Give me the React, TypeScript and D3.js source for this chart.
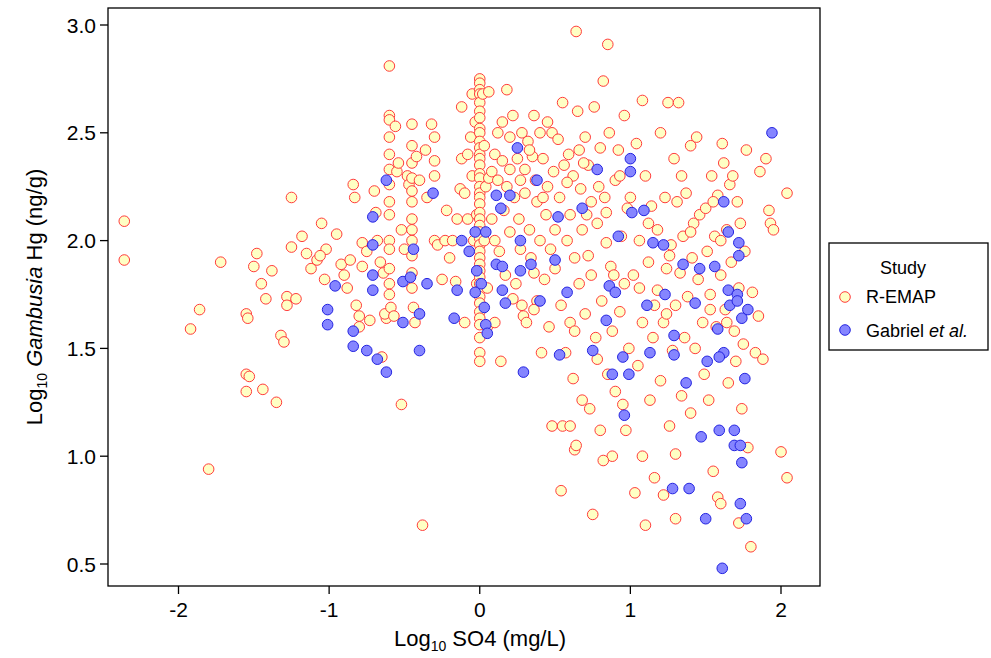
import React from 'react'
import * as d3 from 'd3'

// [log10 SO4, log10 Hg]
const remap: [number, number][] = [
  [-2.36,2.09],[-2.36,1.91],[-1.92,1.59],[-1.86,1.68],[-1.8,0.94],[-1.72,1.9],[-1.55,1.66],[-1.54,1.64],[-1.55,1.38],[-1.53,1.37],[-1.55,1.3],[-1.48,1.94],[-1.5,1.88],[-1.44,1.31],[-1.45,1.8],[-1.42,1.73],[-1.38,1.86],[-1.35,1.25],[-1.32,1.56],[-1.3,1.53],[-1.28,1.74],[-1.28,1.7],[-1.25,2.2],[-1.25,1.97],[-1.22,1.73],[-1.18,2.02],[-1.15,1.94],[-1.12,1.87],[-1.08,1.91],[-1.05,2.08],[-1.02,1.96],[-1.03,1.82],[-1.06,1.93],
  [-0.95,2.03],[-0.92,1.89],[-0.9,1.84],[-0.88,1.78],[-0.86,1.91],[-0.84,2.26],[-0.83,2.2],[-0.8,1.65],[-0.82,1.7],[-0.8,1.6],[-0.78,1.99],[-0.78,1.88],[-0.75,1.95],[-0.73,1.63],[-0.7,2.23],[-0.69,2.13],[-0.68,2.0],[-0.66,1.9],[-0.64,1.85],[-0.62,1.64],[-0.65,1.46],[-0.63,1.66],[-0.6,2.81],[-0.6,2.58],[-0.6,2.56],[-0.6,2.48],[-0.6,2.4],[-0.6,2.33],[-0.6,2.26],[-0.6,2.18],[-0.6,2.12],[-0.6,2.0],[-0.6,1.96],[-0.6,1.87],[-0.6,1.8],[-0.6,1.75],[-0.59,1.69],[-0.57,1.65],[-0.56,2.53],[-0.55,2.32],[-0.54,2.36],[-0.52,1.24],[-0.52,2.05],[-0.5,1.96],
  [-0.48,2.3],[-0.47,2.26],[-0.45,2.54],[-0.45,2.44],[-0.45,2.36],[-0.45,2.29],[-0.45,2.23],[-0.45,2.18],[-0.45,2.1],[-0.45,2.05],[-0.45,2.0],[-0.45,1.93],[-0.45,1.85],[-0.45,1.78],[-0.44,1.69],[-0.43,1.62],[-0.42,2.39],[-0.4,2.28],[-0.38,0.68],[-0.36,2.42],[-0.35,2.2],[-0.32,2.54],[-0.3,2.48],[-0.3,2.37],[-0.3,2.3],[-0.3,2.0],[-0.28,1.98],[-0.25,1.82],[-0.23,2.0],[-0.22,2.14],[-0.2,1.92],[-0.18,2.0],[-0.16,1.81],[-0.15,2.1],[-0.13,2.24],[-0.12,2.62],[-0.12,2.38],[-0.1,2.22],[-0.1,1.62],[-0.08,2.4],[-0.08,2.1],[-0.06,2.48],[-0.05,2.3],[-0.05,2.68],[-0.04,2.0],[-0.03,2.55],[-0.02,2.12],[-0.02,1.8],
  [0,2.75],[0,2.73],[0,2.7],[0,2.68],[0,2.64],[0,2.6],[0,2.57],[0,2.52],[0,2.5],[0,2.46],[0,2.43],[0,2.4],[0,2.38],[0,2.35],[0,2.31],[0,2.29],[0,2.25],[0,2.22],[0,2.2],[0,2.17],[0,2.13],[0,2.1],[0,2.07],[0,2.04],[0,2.01],[0,1.98],[0,1.95],[0,1.92],[0,1.89],[0,1.86],[0,1.83],[0,1.8],[0,1.77],[0,1.74],[0,1.71],[0,1.67],[0,1.64],[0,1.61],[0,1.55],[0,1.48],[0,1.44],[0.02,2.68],[0.03,2.44],[0.04,2.25],[0.03,2.0],[0.05,1.6],[0.05,1.78],
  [0.06,2.29],[0.08,2.32],[0.08,2.1],[0.1,2.4],[0.1,2.0],[0.12,2.5],[0.12,2.28],[0.13,1.95],[0.15,2.55],[0.15,2.37],[0.16,2.14],[0.17,1.84],[0.18,2.25],[0.2,2.48],[0.2,2.33],[0.2,2.04],[0.22,2.58],[0.23,2.2],[0.24,1.8],[0.25,2.38],[0.26,2.1],[0.27,1.96],[0.28,2.5],[0.28,1.7],[0.29,1.65],[0.3,2.33],[0.3,2.22],[0.31,1.62],[0.32,2.46],[0.33,2.05],[0.34,1.92],[0.35,2.39],[0.36,1.85],[0.37,2.28],[0.38,2.18],[0.38,1.72],[0.4,2.5],[0.4,2.0],[0.41,1.48],[0.42,2.38],[0.43,1.82],[0.44,2.12],[0.45,2.25],[0.46,1.6],[0.47,1.96],[0.48,2.5],[0.48,1.14],[0.49,2.32],[0.5,1.87],[0.5,2.05],[0.45,2.55],[0.36,2.58],[0.18,2.7],[0.06,2.69],
  [0.14,1.44],[0.22,1.73],[0.33,2.42],[0.42,2.2],[0.27,2.28],[0.1,1.62],[0.36,1.68],
  [0.52,2.47],[0.53,2.2],[0.54,1.7],[0.55,1.14],[0.55,2.64],[0.56,2.35],[0.57,1.48],[0.58,2.0],[0.59,2.4],[0.6,1.62],[0.6,2.12],[0.62,2.3],[0.62,1.36],[0.63,1.03],[0.64,2.97],[0.65,2.6],[0.66,2.42],[0.66,1.8],[0.67,2.24],[0.68,2.05],[0.68,1.26],[0.7,2.48],[0.7,1.66],[0.72,2.35],[0.72,1.93],[0.73,1.22],[0.74,2.18],[0.75,0.73],[0.76,2.62],[0.77,1.55],[0.78,2.08],[0.8,2.43],[0.8,1.12],[0.81,1.72],[0.82,2.74],[0.83,2.2],[0.84,1.99],[0.85,2.91],[0.85,1.38],[0.86,2.5],[0.87,1.88],[0.88,1.58],[0.9,2.28],[0.9,1.3],[0.92,2.42],[0.93,1.67],[0.94,2.02],[0.95,1.24],[0.96,2.58],[0.96,1.8],[0.97,1.12],[0.98,2.15],[0.99,1.5],[0.54,0.84],[0.64,1.05],[0.88,1.0],[0.82,0.98],[0.6,1.14],[0.78,1.45],
  [0.58,2.27],[0.63,1.92],[0.69,2.36],[0.74,1.84],[0.79,2.25],[0.84,2.13],[0.89,1.84],[0.93,2.3],[0.63,1.58],[0.71,2.12],
  [1.0,2.2],[1.02,1.84],[1.03,0.83],[1.04,2.45],[1.05,1.42],[1.06,2.0],[1.08,2.65],[1.08,1.62],[1.1,2.3],[1.1,0.68],[1.12,1.9],[1.13,1.26],[1.14,2.16],[1.15,1.55],[1.16,0.9],[1.18,2.05],[1.18,1.77],[1.2,2.5],[1.2,1.35],[1.22,1.62],[1.23,2.2],[1.24,1.87],[1.25,2.64],[1.26,1.14],[1.27,1.98],[1.28,1.49],[1.29,2.38],[1.3,1.7],[1.3,1.01],[1.31,2.18],[1.32,2.64],[1.33,1.85],[1.34,1.28],[1.35,2.02],[1.36,1.55],[1.37,2.22],[1.38,1.74],[1.4,2.44],[1.4,1.2],[1.41,1.92],[1.42,2.08],[1.43,1.5],[1.44,2.48],[1.45,1.82],[1.46,2.12],[1.48,1.62],[1.49,1.38],[1.3,0.71],[1.08,1.0],[1.22,0.82],
  [1.12,2.08],[1.26,1.93],[1.34,2.3],[1.16,1.7],[1.4,2.04],[1.06,1.78],[1.24,1.66],
  [1.5,2.15],[1.51,1.95],[1.52,1.26],[1.53,1.75],[1.54,2.3],[1.55,0.93],[1.56,2.02],[1.57,1.6],[1.58,2.21],[1.58,0.81],[1.6,1.84],[1.6,0.78],[1.61,2.45],[1.62,2.36],[1.63,1.68],[1.64,2.05],[1.65,1.34],[1.66,2.26],[1.67,1.9],[1.68,2.3],[1.69,1.58],[1.7,1.44],[1.71,2.18],[1.72,1.78],[1.73,2.08],[1.74,1.22],[1.75,1.52],[1.76,1.95],[1.77,2.42],[1.78,1.04],[1.8,0.58],[1.81,1.76],[1.83,1.48],[1.85,1.65],[1.86,2.32],[1.88,1.45],[1.9,2.38],[1.92,2.14],[1.93,2.08],[1.95,2.05],[2.0,1.02],[2.04,0.9],[2.04,2.22],[1.72,0.69],
  [1.55,2.18],[1.6,2.0],[1.64,1.62],[1.53,1.68],
]

const gabriel: [number, number][] = [
  [-0.62,2.28],[-0.31,2.22],[0.25,2.43],[0.38,2.28],[1.0,2.38],[1.0,2.32],[0.78,2.33],[0.68,2.15],[0.52,2.11],[0.11,2.21],[0.2,2.21],[0.14,2.15],
  [-0.71,2.11],[-0.71,1.98],[-0.71,1.84],[-0.71,1.77],[-0.96,1.79],[-1.01,1.68],[-1.01,1.61],[-0.84,1.58],[-0.84,1.51],[-0.75,1.49],[-0.68,1.45],[-0.62,1.39],[-0.51,1.62],[-0.51,1.81],[-0.46,1.83],[-0.44,1.96],[-0.4,1.66],[-0.4,1.49],[-0.35,1.8],[-0.17,1.64],[-0.15,1.77],[-0.12,2.0],[-0.07,1.95],[-0.03,2.04],[0.04,2.04],[-0.02,1.86],[-0.03,1.76],[0.01,1.8],[0.03,1.69],[0.04,1.61],[0.05,1.57],[0.11,1.89],[0.15,1.88],[0.15,1.77],[0.17,1.71],[0.27,1.86],[0.27,2.0],[0.34,1.89],[0.29,1.39],[0.4,1.72],[0.5,1.91],[0.58,1.76],[0.53,1.47],[0.75,1.49],[0.84,1.63],[0.86,1.79],[0.9,1.76],[0.92,2.02],[0.88,1.38],[0.95,1.46],[0.96,1.19],[0.99,1.38],[1.01,2.13],[1.09,2.14],[1.11,1.7],[1.13,1.48],[1.29,1.47],[1.15,1.99],[1.22,1.98],[1.23,1.75],[1.35,1.89],[1.29,1.56],[1.37,1.34],[1.43,1.71],[1.46,1.87],[1.39,0.85],[1.28,0.85],[1.47,1.09],[1.5,0.71],[1.51,1.44],[1.56,1.88],[1.59,1.12],[1.62,1.48],[1.65,1.77],[1.66,1.7],[1.71,1.75],[1.72,1.93],[1.71,1.72],[1.74,1.64],[1.69,1.12],[1.69,1.05],[1.73,1.05],[1.74,0.97],[1.73,0.78],[1.77,0.71],[1.72,1.99],[1.76,1.36],[1.78,1.68],[1.61,0.48],[1.62,2.18],[1.65,2.04],[1.58,1.59],[1.59,1.46],[1.94,2.5],
]

const xTicks = [-2, -1, 0, 1, 2]
const yTicks = [0.5, 1.0, 1.5, 2.0, 2.5, 3.0]

const font = '"Liberation Sans", Arial, sans-serif'

export default function App() {
  const left = 108, right = 820, top = 8, bottom = 586
  const x = d3.scaleLinear().domain([-2, 2]).range([178.5, 781])
  const y = d3.scaleLinear().domain([0.5, 3.0]).range([564, 25])

  return (
    <svg width={991} height={658} style={{ position: 'absolute', left: 0, top: 0 }} fontFamily={font}>
      <rect x={0} y={0} width={991} height={658} fill="#fff" />
      <rect x={left} y={top} width={right - left} height={bottom - top} fill="none" stroke="#000" strokeWidth={1.3} />
      {remap.map((d, i) => (
        <circle key={'r' + i} cx={x(d[0])} cy={y(d[1])} r={5.3} fill="#FFFFC4" stroke="#FF3B3B" strokeWidth={1} />
      ))}
      {gabriel.map((d, i) => (
        <circle key={'g' + i} cx={x(d[0])} cy={y(d[1])} r={5.3} fill="#8585FF" stroke="#2323E0" strokeWidth={1} />
      ))}
      {xTicks.map(t => (
        <g key={'x' + t}>
          <line x1={x(t)} x2={x(t)} y1={bottom} y2={bottom + 8} stroke="#000" strokeWidth={1.3} />
          <text x={x(t)} y={bottom + 31} fontSize={21} textAnchor="middle">{t}</text>
        </g>
      ))}
      {yTicks.map(t => (
        <g key={'y' + t}>
          <line x1={left - 8} x2={left} y1={y(t)} y2={y(t)} stroke="#000" strokeWidth={1.3} />
          <text x={left - 12} y={y(t) + 7.5} fontSize={21} textAnchor="end">{t.toFixed(1)}</text>
        </g>
      ))}
      <text x={480} y={646} fontSize={22} textAnchor="middle">
        Log<tspan fontSize={14} dy={5}>10</tspan><tspan dy={-5}> SO4 (mg/L)</tspan>
      </text>
      <text transform="translate(42,297) rotate(-90)" fontSize={22} textAnchor="middle">
        Log<tspan fontSize={14} dy={5}>10</tspan><tspan dy={-5}> </tspan><tspan fontStyle="italic">Gambusia</tspan> Hg (ng/g)
      </text>
      <rect x={829} y={243} width={159} height={107} fill="#fff" stroke="#000" strokeWidth={1.3} />
      <text x={903} y={274} fontSize={18} textAnchor="middle">Study</text>
      <circle cx={845} cy={297} r={5.3} fill="#FFFFC4" stroke="#FF3B3B" />
      <text x={866} y={303} fontSize={18}>R-EMAP</text>
      <circle cx={845} cy={330} r={5.3} fill="#8585FF" stroke="#2323E0" />
      <text x={866} y={337} fontSize={18}>Gabriel <tspan fontStyle="italic">et al.</tspan></text>
    </svg>
  )
}
